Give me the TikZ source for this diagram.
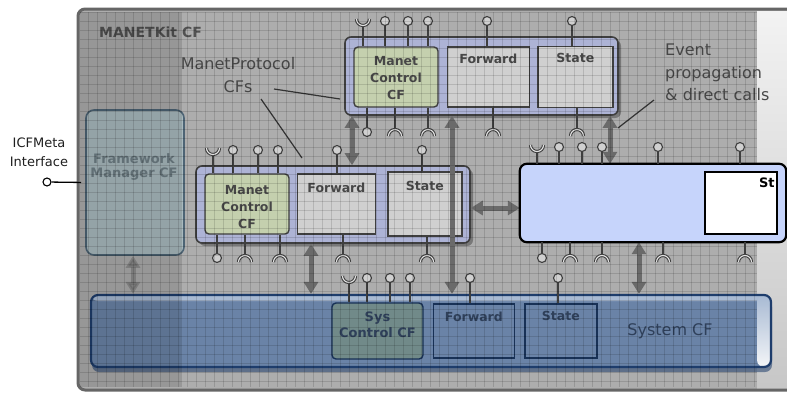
\documentclass[tikz,border=0pt]{standalone}
\usepackage{fontspec}
\setmainfont{DejaVu Sans}
\usepackage{tikz}
\usetikzlibrary{arrows.meta,positioning,shadows}

\definecolor{baggrund}{HTML}{ADADAD}
\definecolor{kant}{HTML}{666666}
\definecolor{lin}{HTML}{3F3F3F}
\definecolor{lavendel}{HTML}{ADB3D5}
\definecolor{groen}{HTML}{C4D0AE}
\definecolor{lysgraa}{HTML}{D0D0D0}
\definecolor{tekstgraa}{HTML}{474747}
\definecolor{pilgraa}{HTML}{6A6A6A}
\definecolor{nyblaa}{HTML}{C6D4FB}
\definecolor{sysblaa}{HTML}{6A83A7}
\definecolor{sysstribe}{HTML}{A8BAD3}
\definecolor{syskant}{HTML}{1E3D6C}
\definecolor{sysgroen}{HTML}{718A89}
\definecolor{systekst}{HTML}{2F405A}
\definecolor{fmfyld}{HTML}{A9BABF}
\definecolor{fmkant}{HTML}{4D6475}
\definecolor{fmtekst}{HTML}{6F7F86}

\tikzset{
    pil/.style={
           {Triangle[width=14pt,length=12pt]}-{Triangle[width=14pt,length=12pt]},
           line width=5pt,
           draw=pilgraa},
    ramme/.style={
           rounded corners=6pt,
           draw=lin, line width=1.6pt,
           fill=lavendel,
           drop shadow={shadow xshift=3pt, shadow yshift=-3pt, fill=black, opacity=.3}},
    kontrol/.style={
           rounded corners=4pt,
           draw=lin, line width=1.4pt,
           fill=groen},
    del/.style={
           draw=lin, line width=1.4pt,
           fill=lysgraa},
    sysdel/.style={
           draw=syskant!80!black, line width=1.4pt},
    deltekst/.style={
           font=\bfseries\fontsize{12.5}{17}\selectfont,
           text=tekstgraa, inner sep=0pt, align=center},
    tekst/.style={
           font=\fontsize{16}{23}\selectfont,
           text=tekstgraa, inner sep=0pt},
    lolly/.style={
           circle, draw=lin, fill=lysgraa,
           line width=1.1pt, minimum size=9pt, inner sep=0pt},
    stilk/.style={draw=lin, line width=1.2pt},
    halv/.style={draw=lin, line width=3.2pt},
    halvind/.style={draw=lysgraa!60!white, line width=1.1pt},
    viser/.style={draw=black!80, line width=1.2pt},
    gitter/.style={draw=black, opacity=.13, line width=.6pt}
}

% interface glyphs: x, row y, box
\newcommand{\kop}[3]{%
    \coordinate (k#3#1) at (#1,#2+4.5);
    \draw[stilk] (k#3#1) -- (k#3#1 |- #3.north);
    \draw[halv] (#1-6.5,#2-2) arc[start angle=180,end angle=0,radius=6.5];
    \draw[halvind] (#1-6.5,#2-2) arc[start angle=180,end angle=0,radius=6.5];}
\newcommand{\bue}[3]{%
    \coordinate (u#3#1) at (#1,#2-2.5);
    \draw[stilk] (u#3#1 |- #3.south) -- (u#3#1);
    \draw[halv] (#1-6.5,#2+4) arc[start angle=180,end angle=360,radius=6.5];
    \draw[halvind] (#1-6.5,#2+4) arc[start angle=180,end angle=360,radius=6.5];}
\newcommand{\lolop}[3]{%
    \node[lolly] (o#3#1) at (#1,#2) {};
    \draw[stilk] (o#3#1) -- (o#3#1 |- #3.north);}
\newcommand{\lolned}[3]{%
    \node[lolly] (n#3#1) at (#1,#2) {};
    \draw[stilk] (n#3#1) -- (n#3#1 |- #3.south);}

\begin{document}
\begin{tikzpicture}[x=1pt, y=-1pt]
    \useasboundingbox (0,0) rectangle (787,394);
    \clip (0,0) rectangle (787,394);

    % MANETKit CF background
    \fill[baggrund, rounded corners=7pt] (78,9) rectangle (800,390);
    \shade[top color=black!5, bottom color=black!22] (757,11) rectangle (787,388);
    \draw[kant, line width=3pt, rounded corners=7pt] (800,9) -- (78,9) -- (78,390) -- (800,390);
    \node[anchor=west, font=\bfseries\fontsize{14}{16}\selectfont, text=black!68, inner sep=0pt] (mk) at (99,32) {MANETKit CF};

    % Framework manager
    \node[rounded corners=8pt, draw=fmkant, line width=1.6pt, fill=fmfyld,
          minimum width=98pt, minimum height=145pt] (fm) at (135,182.5) {};
    \node[deltekst, text=fmtekst, font=\bfseries\fontsize{13}{14}\selectfont] (fmt) at (134,167) {Framework\\Manager CF};
    \node[lolly, draw=black, fill=white, minimum size=8pt] (icf) at (47,182) {};
    \draw[black, line width=1.3pt, shorten >=4pt] (icf) -- (fm.west);
    \node[inner sep=0pt, align=center, text=black!88, font=\fontsize{13}{19}\selectfont] (icft) at (39,152) {ICFMeta\\Interface};

    % System CF
    \node[rounded corners=7pt, draw=syskant, line width=2.2pt, fill=sysblaa,
          minimum width=680pt, minimum height=72pt,
          drop shadow={shadow xshift=1pt, shadow yshift=-5pt, fill=syskant, opacity=.55},
          path picture={
            \fill[sysstribe] ([yshift=-1pt]path picture bounding box.north west) rectangle ([yshift=-6pt]path picture bounding box.north east);
            \shade[top color=sysstribe, bottom color=white!92!sysblaa] ([xshift=-14pt]path picture bounding box.north east) rectangle (path picture bounding box.south east);
          }] (sys) at (431,331) {};
    \node[sysdel, rounded corners=4pt, fill=sysgroen, minimum width=91pt, minimum height=56pt] (sc) at (377.5,331) {};
    \node[sysdel, minimum width=81pt, minimum height=54pt, right=9pt of sc] (fw0) {};
    \node[sysdel, minimum width=72pt, minimum height=54pt, right=9pt of fw0] (st0) {};
    \node[deltekst, text=systekst, font=\bfseries\fontsize{13}{16}\selectfont] (sct) at (377.5,325) {Sys\\Control CF};
    \node[deltekst, text=systekst, below=8pt of fw0.north] (fw0t) {Forward};
    \node[deltekst, text=systekst, below=8pt of st0.north] (st0t) {State};
    \node[tekst, text=systekst] (syst) at (670,331) {System CF};
    \kop{349}{278}{sc}
    \foreach \x in {367,390,410} {\lolop{\x}{278}{sc}}
    \lolop{470}{278}{fw0}
    \lolop{558}{278}{st0}

    % ManetProtocol CF, middle
    \node[ramme, minimum width=274pt, minimum height=77pt] (cf1) at (333,204.5) {};
    \node[kontrol, minimum width=84pt, minimum height=60pt] (mc1) at (247,204) {};
    \node[del, minimum width=78pt, minimum height=60pt, right=7pt of mc1] (fw1) {};
    \node[del, minimum width=74pt, minimum height=64pt, right=11pt of fw1] (st1) {};
    \node[deltekst] (mc1t) at (247,207) {Manet\\Control\\CF};
    \node[deltekst, below=9pt of fw1.north] (fw1t) {Forward};
    \node[deltekst, below=10pt of st1.north] (st1t) {State};
    \kop{213}{150}{mc1}
    \foreach \x in {233,258,278} {\lolop{\x}{150}{mc1}}
    \lolop{337}{150}{fw1}
    \lolop{422}{150}{st1}
    \lolned{217}{258}{mc1}
    \bue{245}{258}{mc1}
    \bue{280}{258}{mc1}
    \bue{343}{258}{fw1}
    \bue{427}{258}{st1}

    % ManetProtocol CF, top
    \node[ramme, minimum width=273pt, minimum height=78pt] (cf2) at (481.5,76) {};
    \node[kontrol, minimum width=84pt, minimum height=60pt] (mc2) at (396,77) {};
    \node[del, minimum width=82pt, minimum height=60pt, right=8pt of mc2] (fw2) {};
    \node[del, minimum width=75pt, minimum height=61pt, right=7pt of fw2] (st2) {};
    \node[deltekst] (mc2t) at (396,78) {Manet\\Control\\CF};
    \node[deltekst, below=7pt of fw2.north] (fw2t) {Forward};
    \node[deltekst, below=7pt of st2.north] (st2t) {State};
    \kop{363}{21}{mc2}
    \foreach \x in {385,408,428} {\lolop{\x}{21}{mc2}}
    \lolop{487}{21}{fw2}
    \lolop{572}{21}{st2}
    \lolned{367}{132}{mc2}
    \bue{395}{132}{mc2}
    \bue{428}{132}{mc2}
    \bue{493}{132}{fw2}
    \bue{577}{132}{st2}

    % big component (placed later on top)
    \path (653,203) node[minimum width=266pt, minimum height=78pt] (ny) {};

    % arrows
    \coordinate (a1) at (352,0);
    \coordinate (a2) at (452,0);
    \coordinate (a3) at (610,0);
    \coordinate (a4) at (0,208);
    \coordinate (a5) at (311,0);
    \coordinate (a6) at (639,0);
    \coordinate (a7) at (133,0);
    \draw[pil] (a1 |- cf2.south) -- (a1 |- cf1.north);
    \draw[pil] (a2 |- cf2.south) -- (a2 |- sys.north);
    \draw[pil] (a3 |- cf2.south) -- (a3 |- ny.north);
    \draw[pil] (a4 -| cf1.east) -- (a4 -| ny.west);
    \draw[pil] (a5 |- cf1.south) -- (a5 |- sys.north);
    \draw[pil] (a6 |- ny.south) -- (a6 |- sys.north);
    \draw[pil, opacity=.45] (a7 |- fm.south) -- (a7 |- sys.north);

    % labels
    \node[tekst, align=center] (mpt) at (238,75) {ManetProtocol\\CFs};
    \coordinate (mp1) at (274,89);
    \coordinate (mp1e) at (340,99);
    \coordinate (mp2) at (261,99);
    \coordinate (mp2e) at (302,158);
    \draw[viser] (mp1) -- (mp1e);
    \draw[viser] (mp2) -- (mp2e);
    \node[tekst, anchor=west, align=left, font=\fontsize{16}{22.5}\selectfont] (evt) at (665,72.5) {Event\\propagation\\\& direct calls};
    \coordinate (ev1) at (654,100);
    \coordinate (ev1e) at (618,128);
    \draw[viser] (ev1) -- (ev1e);

    % grid overlay
    \begin{scope}
        \clip (80,12) rectangle (757,387);
        \foreach \g in {0,...,75} \draw[gitter] (79.5+9*\g,12) -- (79.5+9*\g,387);
        \foreach \g in {0,...,42} \draw[gitter] (80,12+9*\g) -- (757,12+9*\g);
    \end{scope}
    \fill[black, opacity=.12] (80,12) rectangle (182,387);

    % new component on top
    \draw[fill=nyblaa, draw=black, line width=2.2pt, rounded corners=7pt]
        (ny.north west) rectangle (ny.south east);
    \node[draw=black, line width=1.6pt, fill=white, minimum width=72pt, minimum height=62pt] (nyst) at (741,203) {};
    \node[anchor=north east, inner sep=0pt, font=\bfseries\fontsize{13}{15}\selectfont] (nystt) at ([xshift=-3pt,yshift=-6pt]nyst.north east) {St};
    \kop{537}{147}{ny}
    \foreach \x in {559,582,602,658,740} {\lolop{\x}{147}{ny}}
    \lolned{542}{258}{ny}
    \foreach \x in {570,602,663,745} {\bue{\x}{258}{ny}}
\end{tikzpicture}
\end{document}
